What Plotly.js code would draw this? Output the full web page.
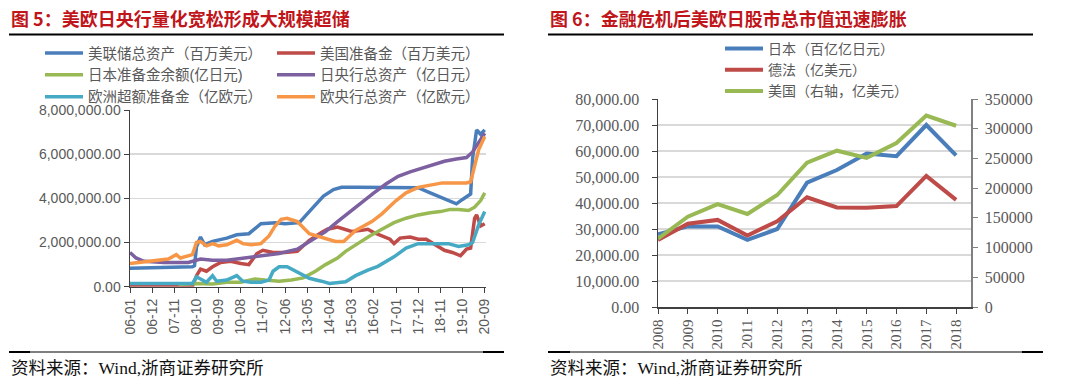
<!DOCTYPE html>
<html><head><meta charset="utf-8">
<script src="https://cdn.plot.ly/plotly-3.0.1.min.js"></script>
<style>html,body{margin:0;padding:0;background:#fff}#chart{width:1080px;height:386px}</style>
</head><body><div id="chart"></div>
<script>
// ---------- Left chart data (figure 5) ----------
const fedDates = ['2006-01','2007-06','2008-08','2008-09','2008-10','2008-12','2009-02','2009-06','2010-01','2010-06','2010-12','2011-06','2012-01','2012-06','2013-01','2013-07','2014-01','2014-06','2014-10','2015-06','2016-06','2017-06','2017-12','2018-06','2019-01','2019-07','2019-10','2020-01','2020-02','2020-03','2020-04','2020-05','2020-07','2020-09'];
const fedAssets = [840000,880000,900000,950000,1800000,2250000,1900000,2050000,2200000,2350000,2400000,2850000,2900000,2850000,2900000,3500000,4100000,4400000,4500000,4500000,4480000,4480000,4480000,4250000,4000000,3750000,3950000,4150000,4200000,5800000,6600000,7100000,6900000,7100000];

const usResDates = ['2006-01','2008-08','2008-10','2008-12','2009-03','2009-06','2009-10','2010-03','2010-08','2010-12','2011-04','2011-07','2011-12','2012-06','2012-12','2013-06','2013-12','2014-03','2014-08','2014-11','2015-03','2015-08','2015-11','2016-02','2016-06','2016-10','2016-12','2017-03','2017-08','2017-12','2018-04','2018-09','2019-01','2019-05','2019-09','2019-12','2020-02','2020-04','2020-05','2020-07','2020-09'];
const usReserves = [10000,10000,500000,800000,700000,900000,1100000,1150000,1050000,1000000,1500000,1650000,1550000,1550000,1600000,2100000,2450000,2600000,2700000,2600000,2500000,2550000,2600000,2450000,2300000,2150000,1950000,2200000,2250000,2150000,2150000,1850000,1650000,1550000,1400000,1700000,1750000,3100000,3250000,2750000,2850000];

const jpResDates = ['2008-01','2008-10','2009-06','2010-01','2010-08','2011-03','2011-08','2012-03','2012-09','2013-03','2013-09','2014-02','2014-08','2014-12','2015-06','2015-12','2016-06','2016-12','2017-06','2017-12','2018-06','2018-11','2019-04','2019-08','2020-01','2020-04','2020-07','2020-09'];
const jpReserves = [100000,150000,120000,200000,200000,350000,300000,250000,300000,400000,700000,1000000,1300000,1600000,1950000,2300000,2600000,2900000,3100000,3250000,3350000,3400000,3500000,3500000,3450000,3600000,3900000,4250000];

const bojDates = ['2006-01','2006-04','2006-08','2007-06','2008-06','2008-12','2009-06','2010-01','2010-08','2011-03','2011-10','2012-03','2012-12','2013-07','2014-02','2014-08','2015-02','2015-08','2016-02','2016-08','2017-02','2017-08','2018-02','2018-08','2019-01','2019-07','2019-12','2020-03','2020-06','2020-09'];
const bojAssets = [1550000,1300000,1150000,1100000,1100000,1250000,1200000,1200000,1280000,1350000,1440000,1500000,1700000,2100000,2500000,2950000,3400000,3850000,4250000,4650000,5000000,5200000,5380000,5550000,5680000,5780000,5850000,6100000,6550000,6950000];

const euResDates = ['2006-01','2008-08','2008-10','2008-12','2009-03','2009-06','2009-08','2010-01','2010-06','2010-09','2011-01','2011-06','2011-10','2011-12','2012-03','2012-07','2013-01','2013-06','2013-12','2014-04','2014-12','2015-05','2015-11','2016-04','2016-12','2017-06','2017-12','2018-06','2018-11','2019-03','2019-08','2020-01','2020-03','2020-06','2020-09'];
const euExcessRes = [150000,150000,450000,350000,200000,500000,250000,300000,500000,250000,200000,200000,300000,700000,900000,900000,600000,380000,250000,150000,220000,500000,750000,920000,1350000,1750000,1950000,1950000,1950000,1950000,1820000,1900000,2000000,2800000,3400000];

const ecbDates = ['2006-01','2006-12','2007-08','2007-12','2008-02','2008-08','2008-10','2008-12','2009-03','2009-06','2009-09','2010-01','2010-06','2010-09','2011-01','2011-06','2011-10','2012-01','2012-04','2012-07','2012-12','2013-06','2013-12','2014-07','2014-11','2015-05','2016-01','2016-06','2017-01','2017-06','2017-12','2018-06','2018-12','2019-06','2019-12','2020-02','2020-04','2020-06','2020-09'];
const ecbAssets = [1050000,1150000,1250000,1450000,1300000,1450000,2000000,2050000,1850000,1950000,1850000,1900000,2100000,1950000,1900000,1950000,2300000,2750000,3050000,3100000,2950000,2400000,2250000,2050000,2050000,2550000,2950000,3300000,3900000,4250000,4500000,4600000,4700000,4700000,4700000,4750000,5400000,6200000,6800000];

const leftTickVals = ['2006-01-01','2006-12-01','2007-11-01','2008-10-01','2009-09-01','2010-08-01','2011-07-01','2012-06-01','2013-05-01','2014-04-01','2015-03-01','2016-02-01','2017-01-01','2017-12-01','2018-11-01','2019-10-01','2020-09-01'];
const leftTickText = ['06-01','06-12','07-11','08-10','09-09','10-08','11-07','12-06','13-05','14-04','15-03','16-02','17-01','17-12','18-11','19-10','20-09'];

// ---------- Right chart data (figure 6) ----------
const years = [2008,2009,2010,2011,2012,2013,2014,2015,2016,2017,2018];
const yearLabels = ['2008','2009','2010','2011','2012','2013','2014','2015','2016','2017','2018'];
const japanCap = [28000,31000,31000,25800,30000,47800,52700,59000,58000,70000,58300];
const gerFraCap = [25800,32000,33500,27500,33000,42200,38300,38200,38800,50400,41200];
const usCap = [115000,152000,173000,156500,188500,243000,263000,251000,276000,322000,305000];

const fx = p => p / 1080;
const fy = p => 1 - p / 386;

const LW = 3.5;
const leftFont = {family: 'Liberation Sans, Noto Sans CJK SC, sans-serif', size: 14, color: '#595959'};
const leftLegFont = {family: 'Liberation Sans, Noto Sans CJK SC, sans-serif', size: 14.5, color: '#595959'};
const rightFont = {family: 'Liberation Serif, Noto Sans CJK SC, serif', size: 15, color: '#595959'};
const rightLegFont = {family: 'Liberation Serif, Noto Sans CJK SC, serif', size: 14, color: '#595959'};

const traces = [
  {x: fedDates, y: fedAssets, name: '美联储总资产（百万美元）', legend: 'legend', line: {color: '#4A7EBB', width: LW}},
  {x: usResDates, y: usReserves, name: '美国准备金（百万美元）', legend: 'legend2', line: {color: '#BE4B48', width: LW}},
  {x: jpResDates, y: jpReserves, name: '日本准备金余额(亿日元)', legend: 'legend', line: {color: '#98B954', width: LW}},
  {x: bojDates, y: bojAssets, name: '日央行总资产（亿日元）', legend: 'legend2', line: {color: '#7D60A0', width: LW}},
  {x: euResDates, y: euExcessRes, name: '欧洲超额准备金（亿欧元）', legend: 'legend', line: {color: '#46AAC5', width: LW}},
  {x: ecbDates, y: ecbAssets, name: '欧央行总资产（亿欧元）', legend: 'legend2', line: {color: '#F79646', width: LW}},
  {x: years, y: japanCap, name: '日本（百亿亿日元）', xaxis: 'x2', yaxis: 'y2', legend: 'legend3', line: {color: '#4A7EBB', width: 4}},
  {x: years, y: gerFraCap, name: '德法（亿美元）', xaxis: 'x2', yaxis: 'y2', legend: 'legend3', line: {color: '#BE4B48', width: 4}},
  {x: years, y: usCap, name: '美国（右轴，亿美元）', xaxis: 'x2', yaxis: 'y3', legend: 'legend3', line: {color: '#98B954', width: 4}}
].map(t => Object.assign({type: 'scatter', mode: 'lines', hoverinfo: 'skip'}, t));

const legBase = {xanchor: 'left', yanchor: 'top', orientation: 'v', bgcolor: 'rgba(0,0,0,0)', borderwidth: 0, itemwidth: 38};

const layout = {
  width: 1080, height: 386,
  margin: {l: 0, r: 0, t: 0, b: 0, pad: 0},
  paper_bgcolor: '#ffffff', plot_bgcolor: '#ffffff',
  showlegend: true,
  xaxis: {
    domain: [fx(130), fx(486)], type: 'date', range: ['2006-01-01', '2020-09-20'],
    tickvals: leftTickVals, ticktext: leftTickText, tickangle: -90,
    tickfont: leftFont, ticks: 'outside', ticklen: 5, tickcolor: '#404040',
    showline: true, linecolor: '#404040', linewidth: 1.5, showgrid: false, zeroline: false,
    automargin: false, anchor: 'y'
  },
  yaxis: {
    domain: [fy(286.7), fy(110)], range: [0, 8000000], dtick: 2000000, tickformat: ',.2f',
    tickfont: leftFont, ticks: 'outside', ticklen: 5, tickcolor: '#404040',
    showline: true, linecolor: '#404040', linewidth: 1.5, gridcolor: '#D9D9D9', gridwidth: 1.5,
    zeroline: false, automargin: false, anchor: 'x'
  },
  xaxis2: {
    domain: [fx(658), fx(971)], range: [2008, 2018.5], tickvals: years, ticktext: yearLabels,
    tickangle: -90, tickfont: rightFont, ticks: 'outside', ticklen: 5, tickcolor: '#404040',
    showline: true, linecolor: '#404040', linewidth: 1.5, showgrid: false, zeroline: false,
    automargin: false, anchor: 'y2'
  },
  yaxis2: {
    domain: [fy(307), fy(99)], range: [0, 80000], dtick: 10000, tickformat: ',.2f',
    tickfont: Object.assign({}, rightFont, {size: 16}), ticks: 'outside', ticklen: 5, tickcolor: '#404040',
    ticklabelstandoff: 9,
    showline: true, linecolor: '#404040', linewidth: 1.5, gridcolor: '#D9D9D9', gridwidth: 1.5,
    zeroline: false, automargin: false, anchor: 'x2'
  },
  yaxis3: {
    overlaying: 'y2', side: 'right', anchor: 'x2', range: [0, 350000], dtick: 50000, tickformat: 'd',
    tickfont: Object.assign({}, rightFont, {size: 16}), ticks: 'outside', ticklen: 5, tickcolor: '#808080',
    ticklabelstandoff: 4,
    showline: true, linecolor: '#808080', linewidth: 1.5, showgrid: false, zeroline: false,
    automargin: false
  },
  legend: Object.assign({}, legBase, {x: fx(40), y: fy(37), font: leftLegFont}),
  legend2: Object.assign({}, legBase, {x: fx(272), y: fy(37), font: leftLegFont}),
  legend3: Object.assign({}, legBase, {x: fx(720), y: fy(33), font: rightLegFont}),
  shapes: [
    {type: 'line', xref: 'paper', yref: 'paper', x0: fx(9), x1: fx(504), y0: fy(34.5), y1: fy(34.5), line: {color: '#000', width: 2}},
    {type: 'line', xref: 'paper', yref: 'paper', x0: fx(548), x1: fx(1033), y0: fy(34.5), y1: fy(34.5), line: {color: '#000', width: 2}},
    {type: 'line', xref: 'paper', yref: 'paper', x0: fx(9), x1: fx(504), y0: fy(352), y1: fy(352), line: {color: '#000', width: 1}},
    {type: 'line', xref: 'paper', yref: 'paper', x0: fx(9), x1: fx(30), y0: fy(352), y1: fy(352), line: {color: '#000', width: 2}},
    {type: 'line', xref: 'paper', yref: 'paper', x0: fx(483), x1: fx(504), y0: fy(352), y1: fy(352), line: {color: '#000', width: 2}},
    {type: 'line', xref: 'paper', yref: 'paper', x0: fx(548), x1: fx(1043), y0: fy(352), y1: fy(352), line: {color: '#000', width: 1}},
    {type: 'line', xref: 'paper', yref: 'paper', x0: fx(548), x1: fx(570), y0: fy(352), y1: fy(352), line: {color: '#000', width: 2}},
    {type: 'line', xref: 'paper', yref: 'paper', x0: fx(1022), x1: fx(1043), y0: fy(352), y1: fy(352), line: {color: '#000', width: 2}}
  ],
  annotations: [
    {text: '图 5：美欧日央行量化宽松形成大规模超储', xref: 'paper', yref: 'paper', x: fx(9), y: fy(18), xanchor: 'left', yanchor: 'middle', showarrow: false,
     font: {family: 'Noto Sans CJK SC, sans-serif', size: 18, color: '#C0161B', weight: 700}},
    {text: '图 6：金融危机后美欧日股市总市值迅速膨胀', xref: 'paper', yref: 'paper', x: fx(548), y: fy(18), xanchor: 'left', yanchor: 'middle', showarrow: false,
     font: {family: 'Noto Sans CJK SC, sans-serif', size: 18, color: '#C0161B', weight: 700}},
    {text: '资料来源：Wind,浙商证券研究所', xref: 'paper', yref: 'paper', x: fx(9), y: fy(368), xanchor: 'left', yanchor: 'middle', showarrow: false,
     font: {family: 'Liberation Serif, Noto Sans CJK SC, serif', size: 17.5, color: '#111'}},
    {text: '资料来源：Wind,浙商证券研究所', xref: 'paper', yref: 'paper', x: fx(548), y: fy(368), xanchor: 'left', yanchor: 'middle', showarrow: false,
     font: {family: 'Liberation Serif, Noto Sans CJK SC, serif', size: 17.5, color: '#111'}}
  ]
};

Plotly.newPlot('chart', traces, layout, {staticPlot: true, displayModeBar: false});
</script></body></html>
